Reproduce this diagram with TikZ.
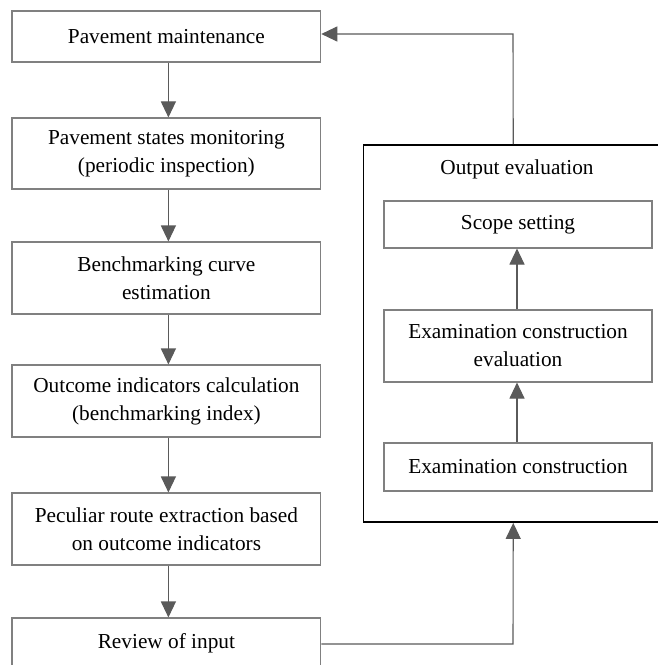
\documentclass[tikz,border=0pt]{standalone}
\usepackage{fontspec}
\setmainfont{Liberation Serif}
\usetikzlibrary{arrows.meta}
\definecolor{boxgray}{HTML}{808080}
\definecolor{arrgray}{HTML}{5A5A5A}
\begin{document}
\begin{tikzpicture}[x=1bp,y=-1bp,
  every node/.style={font=\fontsize{21.3bp}{28bp}\selectfont, text=black, inner sep=0pt, align=center},
  lbox/.style={draw=boxgray, line width=1.1bp, minimum width=308.7bp},
  rbox/.style={draw=boxgray, line width=1.1bp, minimum width=268bp},
  conn/.style={draw=arrgray, line width=1.1bp, -{Triangle[length=16bp,width=15bp]}},
]
\clip (0,0) rectangle (658,665);
\useasboundingbox (0,0) rectangle (658,665);
\fill[white] (0,0) rectangle (658,665);

% left column
\node[lbox, minimum height=51bp] (b1) at (166.4,36.5) {Pavement maintenance};
\node[lbox, minimum height=71bp] (b2) at (166.4,153.5) {Pavement states monitoring\\(periodic inspection)};
\node[lbox, minimum height=72bp] (b3) at (166.4,278) {Benchmarking curve\\estimation};
\node[lbox, minimum height=72bp] (b4) at (166.4,401) {Outcome indicators calculation\\(benchmarking index)};
\node[lbox, minimum height=72bp] (b5) at (166.4,529) {Peculiar route extraction based\\on outcome indicators};
\node[lbox, minimum height=51bp] (b6) at (166.4,643.5) {Review of input};

% outer box
\node[draw=black, line width=1.8bp, minimum width=299.5bp, minimum height=377bp] (outer) at (513.25,333.5) {};
\node (title) at (517,169) {Output evaluation};

% inner boxes
\node[rbox, minimum height=47bp] (s1) at (518,224.5) {Scope setting};
\node[rbox, minimum height=72bp] (s2) at (518,346) {Examination construction\\evaluation};
\node[rbox, minimum height=48bp] (s3) at (518,467) {Examination construction};

% left arrows
\foreach \a/\b in {b1/b2,b2/b3,b3/b4,b4/b5,b5/b6}{
  \draw[conn] ([xshift=2bp]\a.south) -- ([xshift=2bp]\b.north);
}
% inner arrows
\draw[conn] ([xshift=-1bp]s3.north) -- ([xshift=-1bp]s2.south);
\draw[conn] ([xshift=-1bp]s2.north) -- ([xshift=-1bp]s1.south);

% feedback loops
\coordinate (fb) at (513,34);
\draw[conn] (outer.north) -- (fb) -- (b1.east |- fb);
\coordinate (in) at (513,644);
\draw[conn] (b6.east |- in) -- (in) -- (outer.south);
\end{tikzpicture}
\end{document}
